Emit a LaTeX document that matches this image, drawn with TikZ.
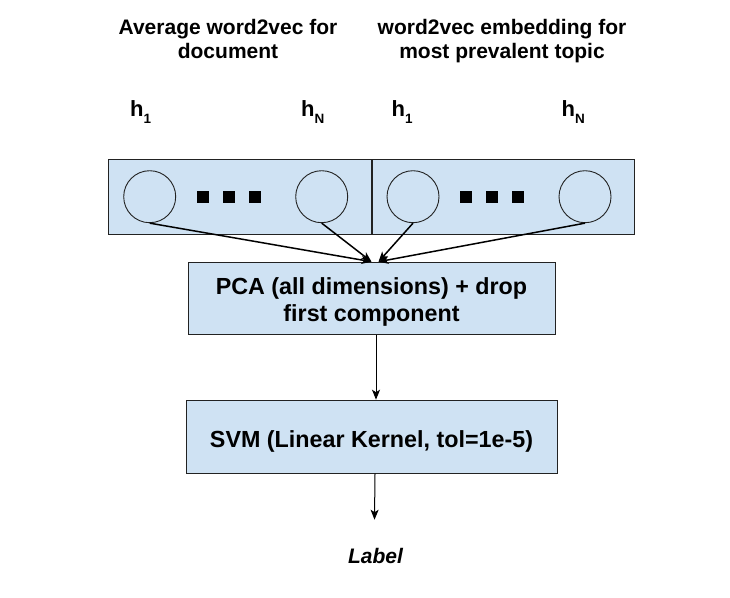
\documentclass[tikz,border=0pt]{standalone}
\usepackage{fontspec}
\setmainfont{Liberation Sans}
\usetikzlibrary{positioning}
\usetikzlibrary{calc}
\usetikzlibrary{arrows.meta}
\definecolor{boxblue}{RGB}{207,226,243}
\definecolor{edgegray}{RGB}{34,34,34}
\newcommand{\hsub}[1]{{\fontsize{22}{22}\selectfont\bfseries h}\raisebox{-7.5pt}{\fontsize{13.5}{13.5}\selectfont\bfseries #1}}
\newcommand{\lowtext}[1]{\rule{0pt}{#1}}
\newcommand{\widthhalf}{262.3pt}
\newcommand{\offsetunit}{41.5pt}
\newcommand{\offsetdot}{53pt}
\newcommand{\widthdot}{26pt}
\newcommand{\gapunit}{67pt}
\tikzset{
    common/.style={draw=edgegray, fill=boxblue, rectangle, line width=1pt, inner sep=0pt},
    half/.style={common, minimum width=\widthhalf, minimum height=75pt},
    neuron/.style={draw=edgegray, circle, line width=0.9pt, minimum size=52pt, inner sep=0pt},
    sqdot/.style={fill=black, rectangle, minimum size=12pt, inner sep=0pt},
    stage/.style={common, align=center, font=\fontsize{23.3}{27}\selectfont\bfseries},
    title/.style={anchor=north, align=center, inner sep=0pt, font=\fontsize{21}{24}\selectfont\bfseries},
    hlabel/.style={anchor=base west, inner sep=0pt},
    feed/.style={-{Stealth[length=10pt, width=8pt, inset=2.5pt]}, line width=1.5pt, black},
    flow/.style={-{Stealth[length=10pt, width=8pt, inset=2.5pt]}, line width=1pt, black},
}
\begin{document}
\begin{tikzpicture}[x=1pt, y=-1pt]
    \useasboundingbox (0,0) rectangle (730,597);

    \node[title] (title-A) at (228,19) {Average word2vec for\\document};
    \node[title] (title-B) at (502,19) {word2vec embedding for\\most prevalent topic};

    \node[hlabel] (h-A1) at (130,116) {\hsub{1}};
    \node[hlabel] (h-AN) at (301,116) {\hsub{N}};
    \node[hlabel] (h-B1) at (391.5,116) {\hsub{1}};
    \node[hlabel] (h-BN) at (561.5,116) {\hsub{N}};

    \node[half] (vecA) at (239.85,196.7) {};
    \node[half, right=0pt of vecA] (vecB) {};

    \path (vecA.west)
        to ++(0:\offsetunit) node[neuron] (A-first) {}
        to ++(0:\offsetdot) node[sqdot] {}
        to ++(0:\widthdot) node[sqdot] {}
        to ++(0:\widthdot) node[sqdot] {}
        to ++(0:\gapunit) node[neuron] (A-last) {};
    \path (vecB.west)
        to ++(0:\offsetunit) node[neuron] (B-first) {}
        to ++(0:\offsetdot) node[sqdot] {}
        to ++(0:\widthdot) node[sqdot] {}
        to ++(0:\widthdot) node[sqdot] {}
        to ++(0:\gapunit) node[neuron] (B-last) {};

    \node[stage, minimum width=367pt, minimum height=72pt, below=27pt of vecA.south east]
        (pca) {\lowtext{25pt}PCA (all dimensions) + drop\\first component};
    \node[stage, minimum width=371pt, minimum height=73pt, below=65pt of pca]
        (svm) {\lowtext{27pt}SVM (Linear Kernel, tol=1e-5)};
    \node[inner sep=0pt, font=\fontsize{21}{24}\selectfont\bfseries\itshape,
        below=74pt of svm, xshift=4pt] (lbl) {Label};

    \draw[feed] (A-first.south) -- (pca.north);
    \draw[feed] (A-last.south) -- (pca.north);
    \draw[feed] (B-first.south) -- ([xshift=7pt]pca.north);
    \draw[feed] (B-last.south) -- ([xshift=7pt]pca.north);
    \draw[flow] ([xshift=4.5pt]pca.south) -- ([xshift=4.5pt]svm.north);
    \draw[flow] ([xshift=3.5pt]svm.south) -- ([xshift=-1pt, yshift=28pt]lbl.north);
\end{tikzpicture}
\end{document}
